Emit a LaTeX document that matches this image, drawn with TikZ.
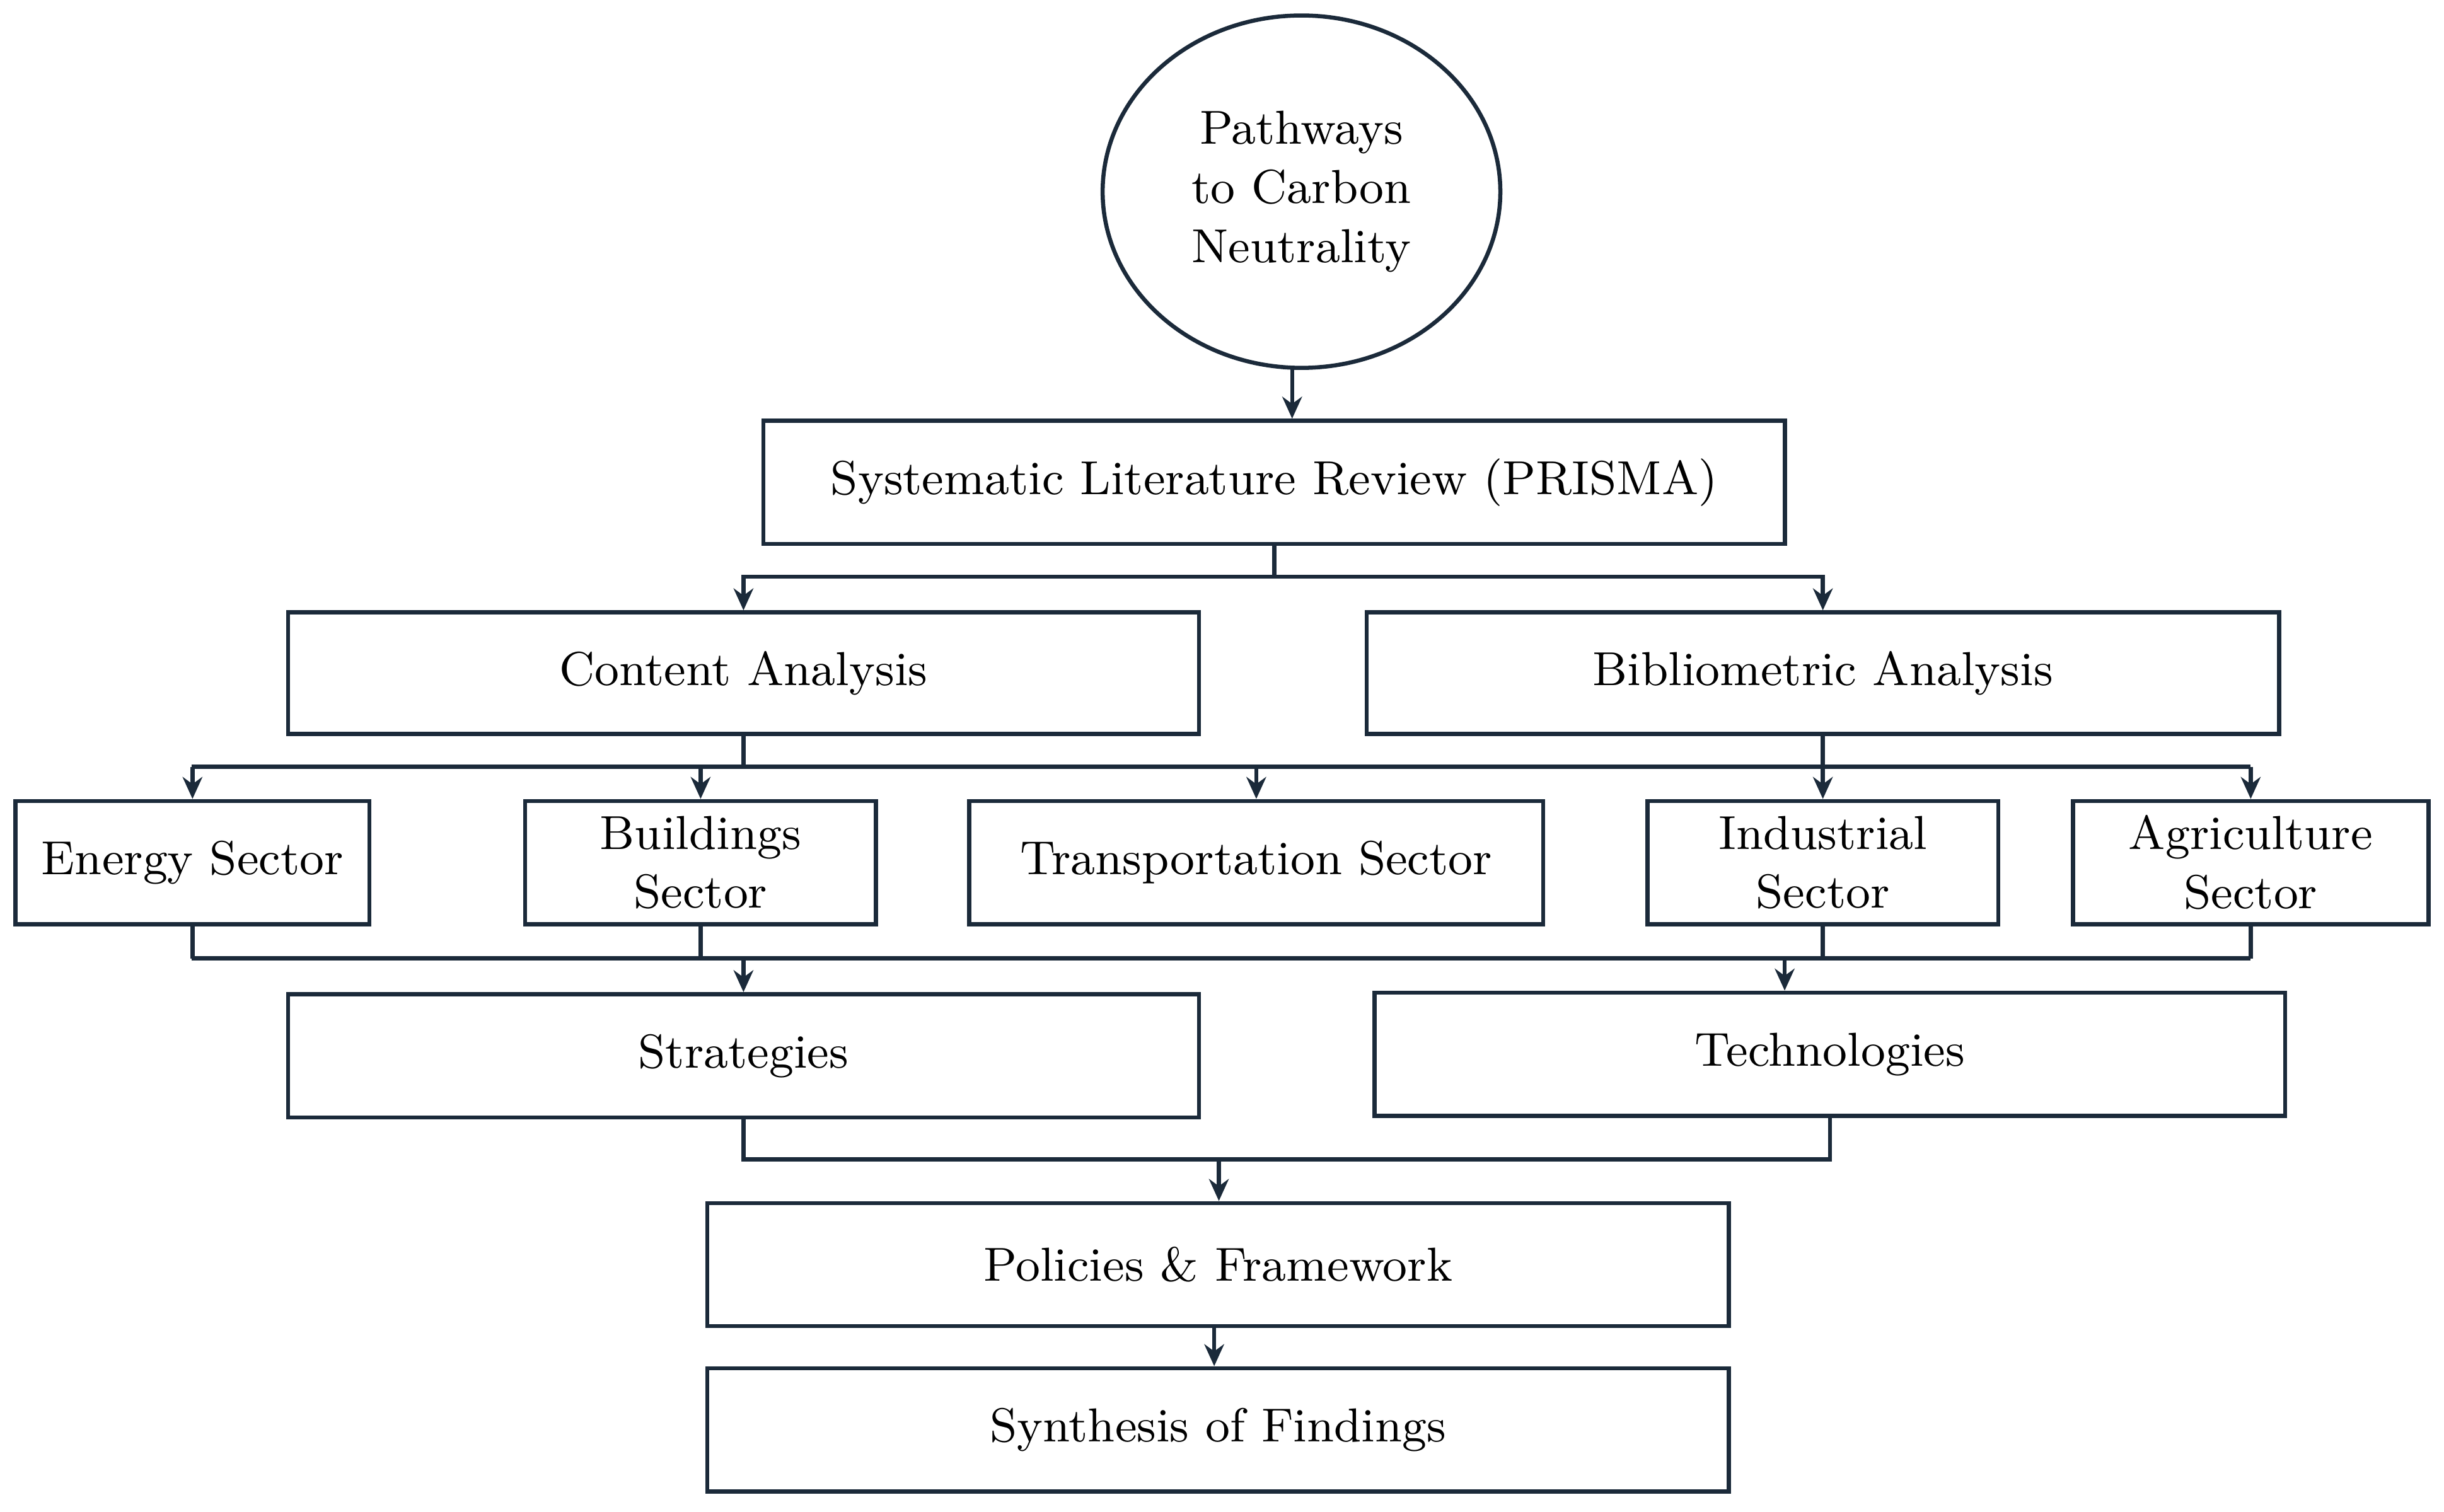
\documentclass[tikz,border=0pt]{standalone}
\usetikzlibrary{arrows.meta,shapes.geometric}
\definecolor{ln}{HTML}{1B2A3A}
\begin{document}
\begin{tikzpicture}[x=0.01cm,y=-0.01cm,
  box/.style={draw=ln,line width=0.75pt,rectangle,inner sep=1pt,align=center,font=\fontsize{8.7}{10.8}\selectfont},
  ln/.style={draw=ln,line width=0.75pt},
  ar/.style={ln,-{Stealth[length=4pt,width=3.6pt]}}]
\useasboundingbox (0,0) rectangle (1568,970);
\node[ellipse,draw=ln,line width=0.75pt,minimum width=2.55cm,minimum height=2.26cm,align=center,font=\fontsize{8.7}{10.8}\selectfont] (c) at (835,123) {Pathways\\to Carbon\\Neutrality};
\node[box,minimum width=6.55cm,minimum height=0.79cm] (pr) at (817.5,309.5) {Systematic Literature Review (PRISMA)};
\node[box,minimum width=5.84cm,minimum height=0.78cm] (ca) at (477,432) {Content Analysis};
\node[box,minimum width=5.85cm,minimum height=0.78cm] (ba) at (1169.5,432) {Bibliometric Analysis};
\node[box,minimum width=2.27cm,minimum height=0.79cm] (en) at (123.5,553.5) {Energy Sector};
\node[box,minimum width=2.25cm,minimum height=0.79cm] (bu) at (449.5,553.5) {Buildings\\Sector};
\node[box,minimum width=3.68cm,minimum height=0.79cm] (tr) at (806,553.5) {Transportation Sector};
\node[box,minimum width=2.25cm,minimum height=0.79cm] (in) at (1169.5,553.5) {Industrial\\Sector};
\node[box,minimum width=2.28cm,minimum height=0.79cm] (ag) at (1444,553.5) {Agriculture\\Sector};
\node[box,minimum width=5.84cm,minimum height=0.79cm] (st) at (477,677.5) {Strategies};
\node[box,minimum width=5.84cm,minimum height=0.79cm] (te) at (1174,676.5) {Technologies};
\node[box,minimum width=6.55cm,minimum height=0.79cm] (po) at (781.5,811.5) {Policies \& Framework};
\node[box,minimum width=6.55cm,minimum height=0.79cm] (sy) at (781.5,917.5) {Synthesis of Findings};
\coordinate (ct) at (829,236);
\draw[ar] (ct) -- (ct |- pr.north);
\draw[ln] (pr.south) -- (pr.south |- 0,370);
\draw[ar] (pr.south |- 0,370) -| (ca.north);
\draw[ar] (pr.south |- 0,370) -| (ba.north);
\coordinate (bl) at (123,492); \coordinate (br) at (1444,492);
\draw[ln] (ca.south) -- (ca.south |- bl);
\draw[ln] (ba.south) -- (ba.south |- bl);
\draw[ln] (bl) -- (br);
\foreach \n in {en,bu,tr,in,ag} \draw[ar] (\n.north |- bl) -- (\n.north);
\coordinate (ll) at (123,615); \coordinate (lr) at (1444,615);
\draw[ln] (ll) -- (lr);
\foreach \n in {en,bu,in,ag} \draw[ln] (\n.south) -- (\n.south |- ll);
\draw[ar] (st.north |- ll) -- (st.north);
\coordinate (tt) at (1145,615);
\draw[ar] (tt) -- (tt |- te.north);
\coordinate (m) at (782,744);
\draw[ln] (st.south) |- (m) -| (te.south);
\draw[ar] (m) -- (m |- po.north);
\coordinate (pb) at (779,851);
\draw[ar] (pb) -- (pb |- sy.north);
\end{tikzpicture}
\end{document}
